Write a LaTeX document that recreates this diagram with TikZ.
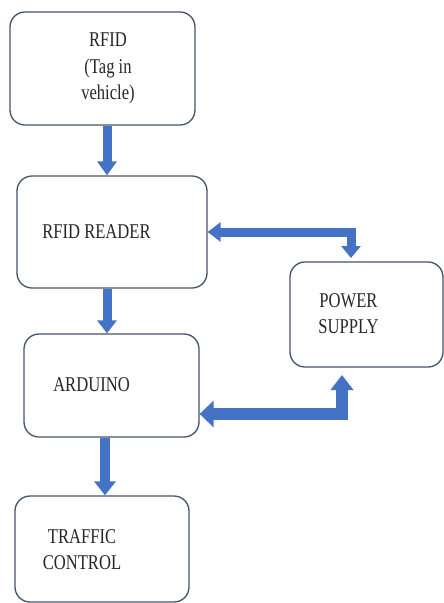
\documentclass[tikz,border=0pt]{standalone}
\usepackage{fontspec}
\setmainfont{Liberation Serif}[FakeStretch=0.79]
\usetikzlibrary{arrows.meta}
\definecolor{boxline}{HTML}{44546A}
\definecolor{arrowblue}{HTML}{4472C4}
\tikzset{
  blockbox/.style={draw=boxline, line width=1.3pt, rounded corners=15pt, fill=white, inner sep=0pt},
  lbl/.style={inner sep=0pt, align=center, text=black!85, font=\fontsize{21}{26.5}\selectfont},
  fatarrow/.style={draw=arrowblue, line width=#1, line join=miter},
  fatarrow/.default=9pt
}
\begin{document}
\begin{tikzpicture}[x=1pt,y=-1pt]
\useasboundingbox (0,0) rectangle (444,603);
\fill[white] (0,0) rectangle (444,603);
% boxes
\node[blockbox, minimum width=185pt, minimum height=113pt] (b1) at (102.5,68.5) {};
\node[blockbox, minimum width=190pt, minimum height=112pt] (b2) at (112,232) {};
\node[blockbox, minimum width=175pt, minimum height=103pt] (b3) at (111.5,385.5) {};
\node[blockbox, minimum width=174pt, minimum height=106pt] (b4) at (102,549) {};
\node[blockbox, minimum width=153pt, minimum height=105pt] (b5) at (366.5,314.5) {};
% labels
\node[lbl] (t1) at (108,68.5) {RFID\\(Tag in\\vehicle)};
\node[lbl] (t2) at (96.5,232) {RFID READER};
\node[lbl] (t3) at (91.5,385) {ARDUINO};
\node[lbl] (t4) at (82,549.5) {TRAFFIC\\CONTROL};
\node[lbl] (t5) at (348.5,313.5) {POWER\\SUPPLY};
% helper coordinates
\coordinate (xa) at (107,0);
\coordinate (xb) at (105,0);
\coordinate (k1) at (351,232);
\coordinate (e1) at (351,258);
\coordinate (s1) at (b2.east |- k1);
\coordinate (k2) at (342,414);
\coordinate (e2) at (342,375);
\coordinate (s2) at (b3.east |- k2);
% arrows
\draw[fatarrow, -{Triangle[width=19pt,length=14pt]}] (b1.south -| xa) -- (b2.north -| xa);
\draw[fatarrow, -{Triangle[width=19pt,length=13pt]}] (b2.south -| xa) -- (b3.north -| xa);
\draw[fatarrow=10pt, -{Triangle[width=21pt,length=14pt]}] (b3.south -| xb) -- (b4.north -| xb);
\draw[fatarrow, {Triangle[width=19pt,length=13pt]}-{Triangle[width=19pt,length=12pt]}] (s1) -- (k1) -- (e1);
\draw[fatarrow=12pt, {Triangle[width=26pt,length=14pt]}-{Triangle[width=22pt,length=15pt]}] (s2) -- (k2) -- (e2);
\end{tikzpicture}
\end{document}
